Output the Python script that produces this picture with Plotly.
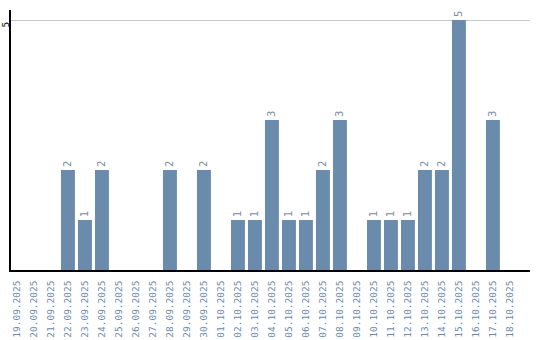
import plotly.graph_objects as go

dates = ["19.09.2025","20.09.2025","21.09.2025","22.09.2025","23.09.2025","24.09.2025",
         "25.09.2025","26.09.2025","27.09.2025","28.09.2025","29.09.2025","30.09.2025",
         "01.10.2025","02.10.2025","03.10.2025","04.10.2025","05.10.2025","06.10.2025",
         "07.10.2025","08.10.2025","09.10.2025","10.10.2025","11.10.2025","12.10.2025",
         "13.10.2025","14.10.2025","15.10.2025","16.10.2025","17.10.2025","18.10.2025"]
values = [0,0,0,2,1,2,0,0,0,2,0,2,0,1,1,3,1,1,2,3,0,1,1,1,2,2,5,0,3,0]
labels = [str(v) if v > 0 else "" for v in values]

fig = go.Figure(go.Bar(
    x=dates, y=values, text=labels, textposition="outside", textangle=-90,
    textfont=dict(family="DejaVu Sans", size=10, color="#7a8ca0"),
    marker=dict(color="#6a8bab", line=dict(width=0)),
    width=0.82, cliponaxis=False,
))
fig.update_layout(
    width=540, height=340, margin=dict(l=11, r=10, t=10, b=70),
    plot_bgcolor="white", paper_bgcolor="white", showlegend=False,
    xaxis=dict(type="category", range=[-0.35, 30.18], tickangle=-90, automargin=False,
               showline=True, linecolor="black", linewidth=1.5, showgrid=False,
               ticks="outside", ticklen=5, tickcolor="rgba(0,0,0,0)",
               tickfont=dict(family="DejaVu Sans Mono", size=9.5, color="#6a8aad")),
    yaxis=dict(range=[0, 5.2], tickvals=[5], ticktext=["5"], tickangle=-90, automargin=False,
               showline=True, linecolor="black", linewidth=1.5,
               showgrid=True, gridcolor="#c8c8c8", gridwidth=1, zeroline=False,
               ticks="", ticklabelstandoff=-3, ticklabelshift=6,
               tickfont=dict(family="DejaVu Sans", size=9, color="black")),
)
fig.write_html("out.html")
